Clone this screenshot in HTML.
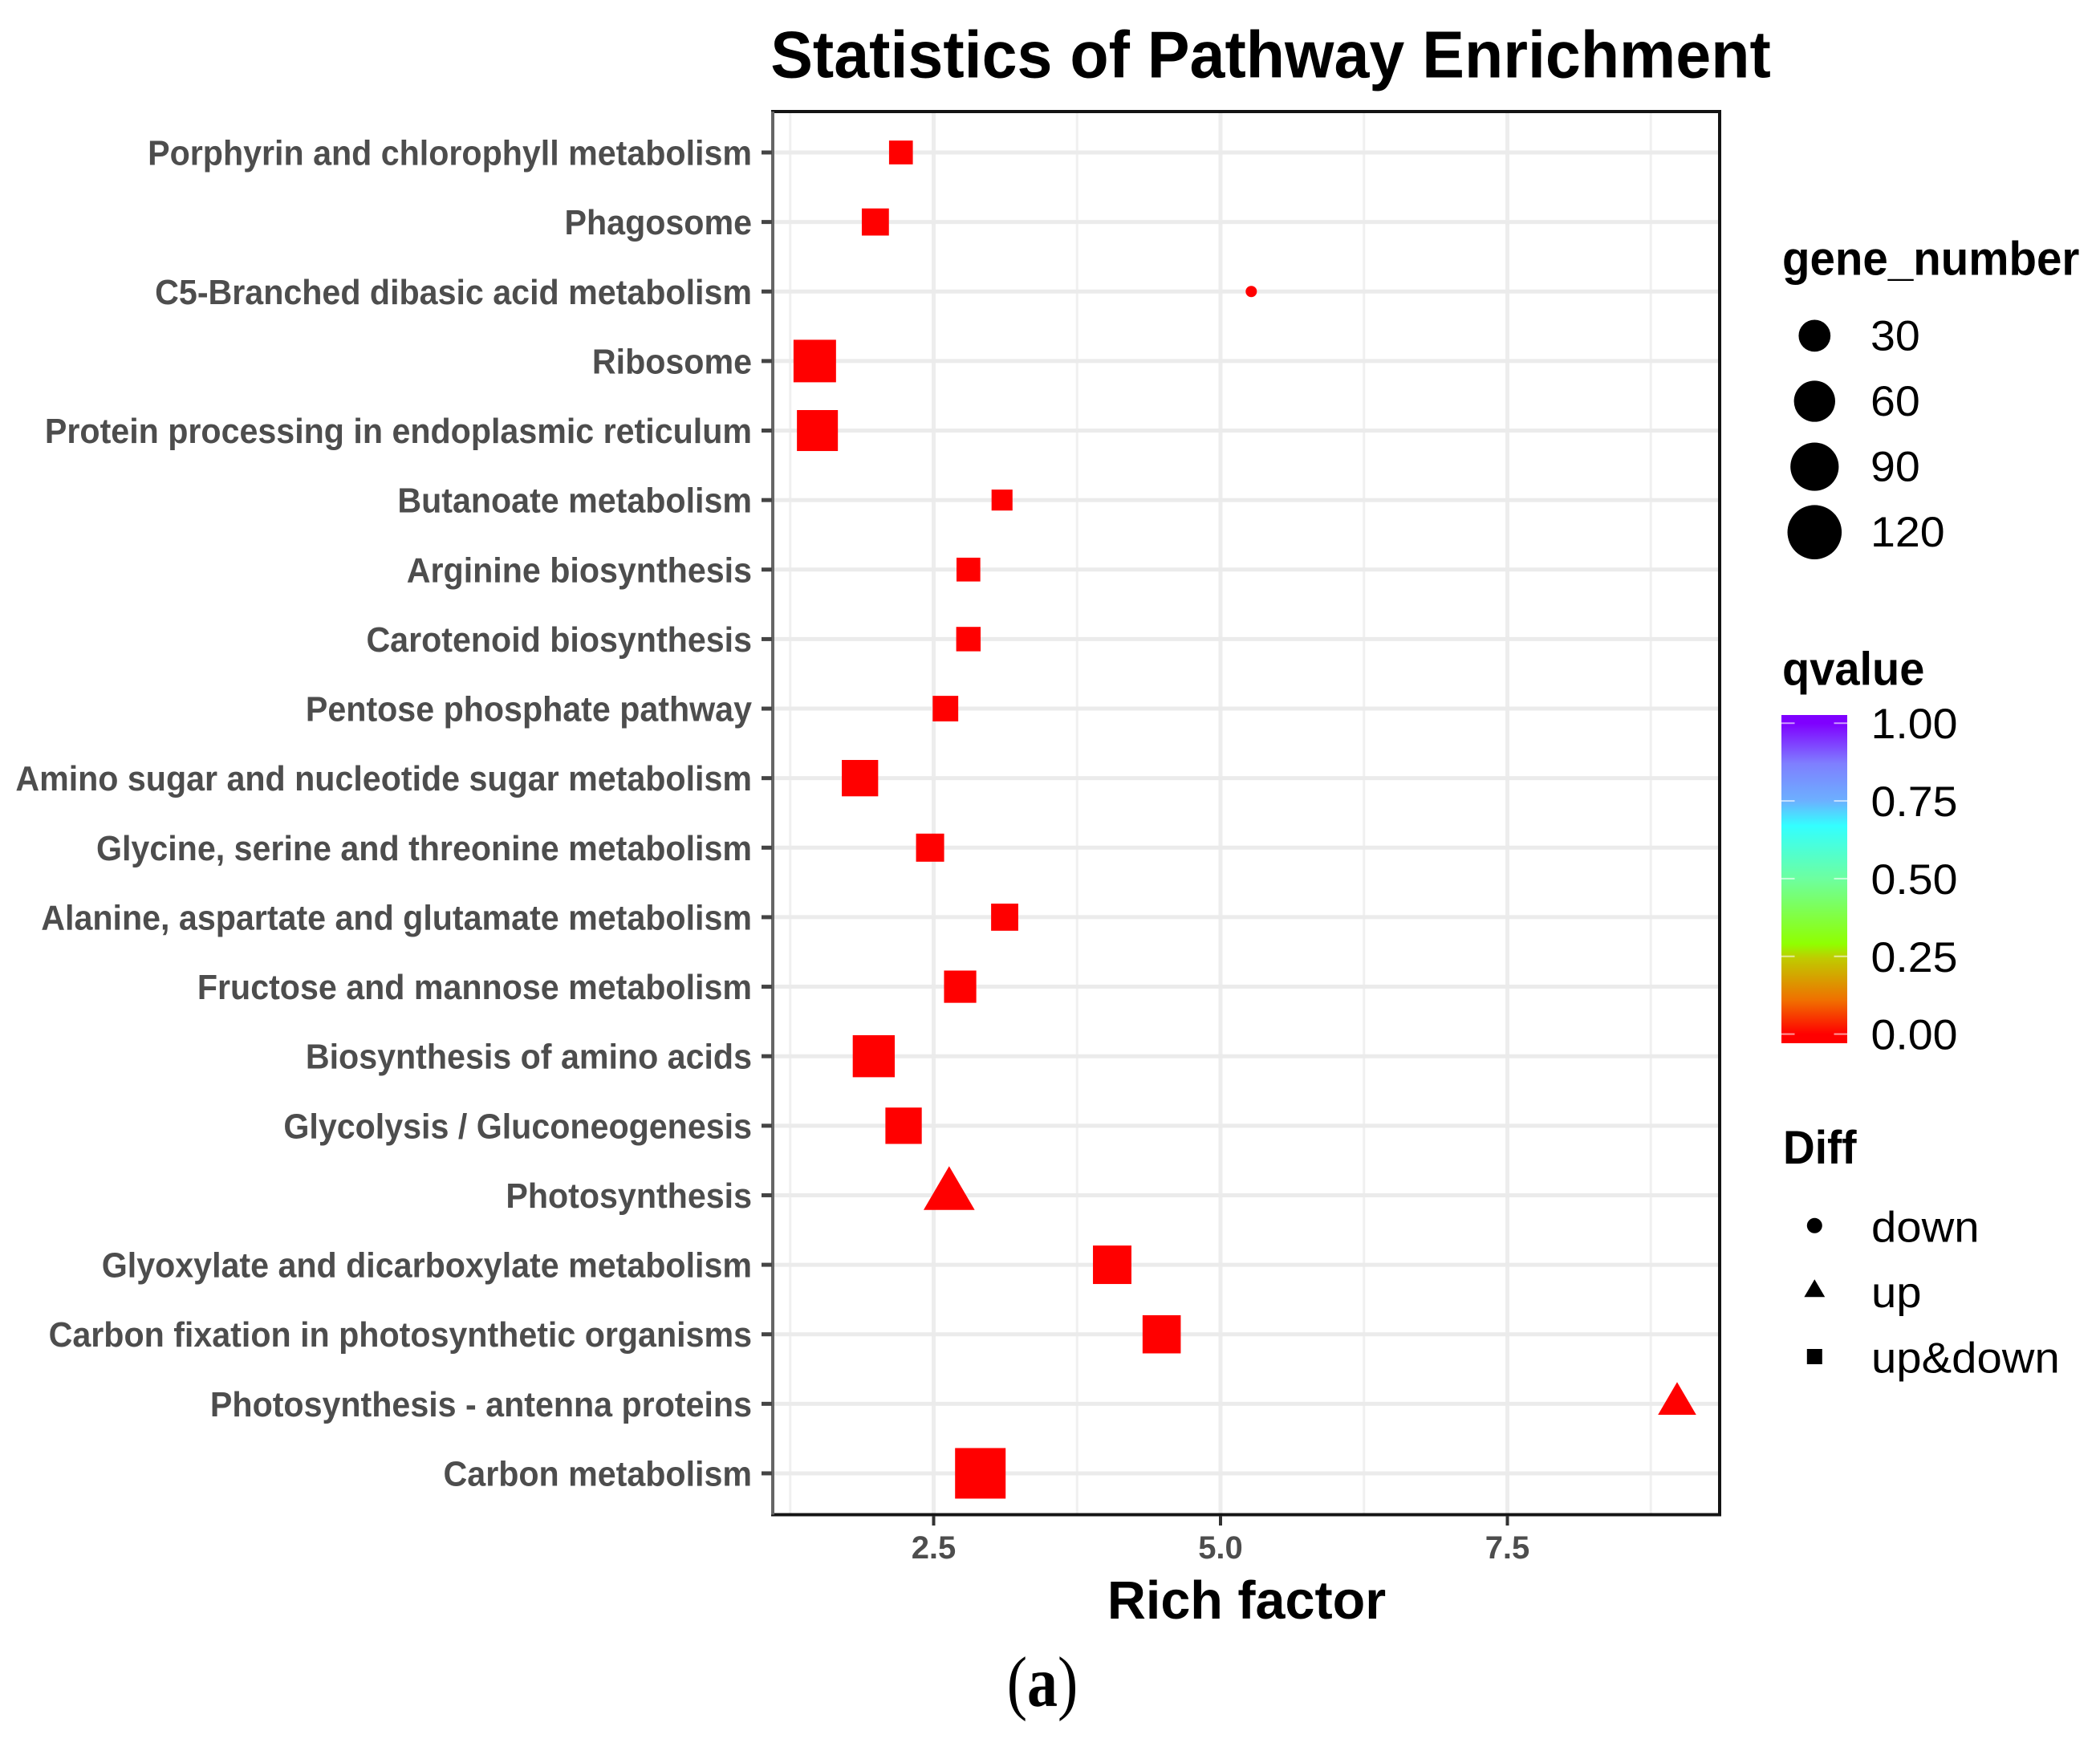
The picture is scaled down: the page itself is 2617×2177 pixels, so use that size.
<!DOCTYPE html>
<html>
<head>
<meta charset="utf-8">
<title>Statistics of Pathway Enrichment</title>
<style>
html,body{margin:0;padding:0;background:#fff;}
svg{display:block;}
text{font-family:"Liberation Sans",sans-serif;}
</style>
</head>
<body>
<svg id="chart" xmlns="http://www.w3.org/2000/svg" width="2617" height="2177" viewBox="0 0 2617 2177">
  <rect width="2617" height="2177" fill="#fff"/>
  <defs>
    <linearGradient id="qGrad" gradientUnits="userSpaceOnUse" x1="0" x2="0"></linearGradient>
  </defs>
  <text transform="translate(1583.5,96.5) scale(1,1.05)" font-size="79" font-weight="700" text-anchor="middle" fill="#000">Statistics of Pathway Enrichment</text>
  <g id="panel-grid"></g>
  <g id="marks"></g>
  <rect x="963" y="139" width="1180" height="1748.5" fill="none" stroke="#141414" stroke-width="4"/>
  <rect x="961" y="139" width="4" height="1748.5" fill="#666"/>
  <g id="y-axis"></g>
  <g id="x-axis"></g>
  <text x="1553.5" y="2017" font-size="66.5" font-weight="700" text-anchor="middle" fill="#000">Rich factor</text>
  <text transform="translate(2221,342.5) scale(1,1.05)" font-size="56.5" font-weight="700" fill="#000">gene_number</text>
  <g id="size-legend"></g>
  <text transform="translate(2221,853.5) scale(1,1.05)" font-size="56" font-weight="700" fill="#000">qvalue</text>
  <g id="color-legend"></g>
  <text transform="translate(2222,1450) scale(1,1.06)" font-size="55" font-weight="700" fill="#000">Diff</text>
  <g id="shape-legend"></g>
  <text transform="translate(1299,2126) scale(1,1.17)" font-size="76" text-anchor="middle" fill="#000" style="font-family:'Liberation Serif',serif">(<tspan font-weight="700">a</tspan>)</text>
</svg>
<script>
const categories = ["Porphyrin and chlorophyll metabolism","Phagosome","C5-Branched dibasic acid metabolism","Ribosome","Protein processing in endoplasmic reticulum","Butanoate metabolism","Arginine biosynthesis","Carotenoid biosynthesis","Pentose phosphate pathway","Amino sugar and nucleotide sugar metabolism","Glycine, serine and threonine metabolism","Alanine, aspartate and glutamate metabolism","Fructose and mannose metabolism","Biosynthesis of amino acids","Glycolysis / Gluconeogenesis","Photosynthesis","Glyoxylate and dicarboxylate metabolism","Carbon fixation in photosynthetic organisms","Photosynthesis - antenna proteins","Carbon metabolism"];
const richFactor = [2.215,1.992,5.268,1.464,1.487,3.096,2.803,2.803,2.603,1.858,2.469,3.119,2.731,1.978,2.238,2.635,4.056,4.487,8.979,2.907];
const geneNumber = [13,19,3,65,59,9,13,14,16,43,21,19,31,63,43,47,50,49,21,101];
const diffType = ["up&down","up&down","down","up&down","up&down","up&down","up&down","up&down","up&down","up&down","up&down","up&down","up&down","up&down","up&down","up","up&down","up&down","up","up&down"];
const qValue = [0,0,0,0,0,0,0,0,0,0,0,0,0,0,0,0,0,0,0,0];
const xMajorTicks = [2.5,5,7.5];
const xMinorTicks = [1.25,3.75,6.25,8.75];
const sizeBreaks = [30,60,90,120];
const qTicks = [0,0.25,0.5,0.75,1];
const qGradientValues = [0,0.109,0.245,0.29,0.5,0.67,0.75,0.87,1];
const qGradientColors = ["#ff0000","#f07000","#bfcc00","#90ff00","#6dffa0","#33ffff","#6cb0ff","#7f7fff","#7f00ff"];
const diffLevels = ["down","up","up&down"];

const SVGNS = "http://www.w3.org/2000/svg";
const PANEL = {left:963, right:2143, top:139, bottom:1887.5};
function xScale(v){ return 1521 + (v - 5) * 143; }
function yScale(i){ return 190 + i * 86.63; }
function sizeScale(n){ return 14 + 4.95 * Math.sqrt(Math.max(n - 3, 0)); }
function qScale(q){ return 1288.6 - q * 387.4; }
function qColor(q){
  for (let i = 1; i < qGradientValues.length; i++) {
    if (q <= qGradientValues[i]) {
      return q <= qGradientValues[i - 1] ? qGradientColors[i - 1] : qGradientColors[i];
    }
  }
  return qGradientColors[qGradientColors.length - 1];
}
function make(tag, attrs, parent, text){
  const el = document.createElementNS(SVGNS, tag);
  for (const k in attrs) el.setAttribute(k, attrs[k]);
  if (text !== undefined) el.textContent = text;
  parent.appendChild(el);
  return el;
}
function drawShape(shape, cx, cy, d, fill, parent){
  let el;
  if (shape === "down") {
    el = make("circle", {cx:cx, cy:cy, r:d/2, fill:fill}, parent);
  } else if (shape === "up") {
    const w = d * 1.36;
    const pts = [[cx, cy - 0.773*d],[cx + w/2, cy + 0.39*d],[cx - w/2, cy + 0.39*d]].map(p => p.join(",")).join(" ");
    el = make("polygon", {points:pts, fill:fill}, parent);
  } else {
    el = make("rect", {x:cx - d/2, y:cy - d/2, width:d, height:d, fill:fill}, parent);
  }
  return el;
}
function slug(s){ return s.toLowerCase().replace(/[^a-z0-9]+/g, "-").replace(/^-|-$/g, ""); }

const grid = document.getElementById("panel-grid");
xMinorTicks.forEach(function(v){
  const el = make("line", {x1:xScale(v), x2:xScale(v), y1:PANEL.top, y2:PANEL.bottom, stroke:"#f0f0f0", "stroke-width":3}, grid);
  
  
});
xMajorTicks.forEach(function(v){
  const el = make("line", {x1:xScale(v), x2:xScale(v), y1:PANEL.top, y2:PANEL.bottom, stroke:"#ededed", "stroke-width":5}, grid);
  
  
});
categories.forEach(function(c, i){
  const el = make("line", {x1:PANEL.left, x2:PANEL.right, y1:yScale(i), y2:yScale(i), stroke:"#ebebeb", "stroke-width":5}, grid);
  
  
});

const marks = document.getElementById("marks");
categories.forEach(function(c, i){
  const el = drawShape(diffType[i], xScale(richFactor[i]), yScale(i), sizeScale(geneNumber[i]), qColor(qValue[i]), marks);
  
  
});

const yAxis = document.getElementById("y-axis");
categories.forEach(function(c, i){
  const tick = make("rect", {x:949, y:yScale(i) - 2.5, width:13, height:5, fill:"#444"}, yAxis);
  
  
  const label = make("text", {transform:"translate(937," + (yScale(i) + 15.5) + ") scale(1,1.06)", "font-size":41.2, "font-weight":700, "text-anchor":"end", fill:"#4d4d4d"}, yAxis, c);
  
  
});

const xAxis = document.getElementById("x-axis");
xMajorTicks.forEach(function(v){
  const tick = make("rect", {x:xScale(v) - 2, y:1889, width:4, height:12, fill:"#333"}, xAxis);
  
  
  const label = make("text", {x:xScale(v), y:1942, "font-size":40, "font-weight":700, "text-anchor":"middle", fill:"#4d4d4d"}, xAxis, v.toFixed(1));
  
  
});

const sizeLegend = document.getElementById("size-legend");
sizeBreaks.forEach(function(n, i){
  const cy = 418.4 + i * 81.6;
  const key = make("circle", {cx:2261.3, cy:cy, r:sizeScale(n)/2, fill:"#000"}, sizeLegend);
  
  
  const label = make("text", {transform:"translate(2331," + (cy + 18) + ") scale(1,0.95)", "font-size":55.5, fill:"#000"}, sizeLegend, String(n));
  
  
});

const gradient = document.getElementById("qGrad");
gradient.setAttribute("y1", qScale(0));
gradient.setAttribute("y2", qScale(1));
qGradientValues.forEach(function(q, i){
  make("stop", {offset:q, "stop-color":qGradientColors[i]}, gradient);
});
const colorLegend = document.getElementById("color-legend");
const bar = make("rect", {x:2220, y:891, width:82, height:409, fill:"url(#qGrad)"}, colorLegend);


qTicks.forEach(function(q){
  const y = qScale(q);
  const left = make("rect", {x:2220, y:y - 1, width:16.5, height:2, fill:"#fff", opacity:0.6}, colorLegend);
  
  
  const right = make("rect", {x:2285.5, y:y - 1, width:16.5, height:2, fill:"#fff", opacity:0.6}, colorLegend);
  
  
  const label = make("text", {transform:"translate(2331.5," + (y + 19) + ") scale(1,0.95)", "font-size":55.5, fill:"#000"}, colorLegend, q.toFixed(2));
  
  
});

const shapeLegend = document.getElementById("shape-legend");
diffLevels.forEach(function(level, i){
  const cy = 1527.3 + i * 81.6;
  const key = drawShape(level, 2261.3, cy, 19, "#000", shapeLegend);
  
  
  const label = make("text", {transform:"translate(2332," + (cy + 20) + ") scale(1,0.95)", "font-size":56.3, fill:"#000"}, shapeLegend, level);
  
  
});
</script>
</body>
</html>
